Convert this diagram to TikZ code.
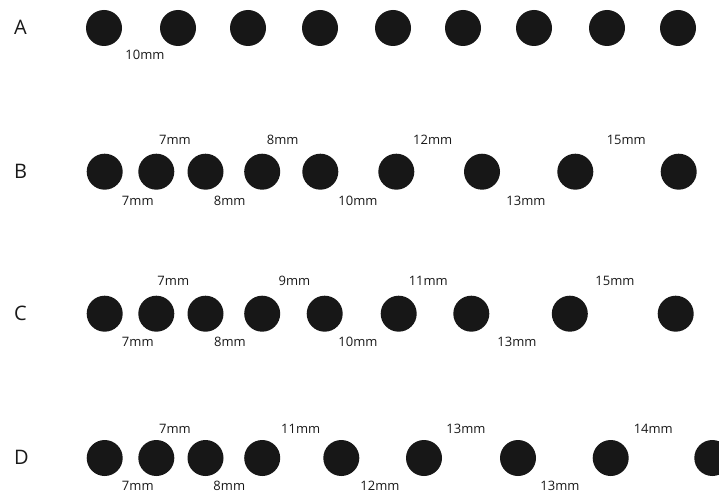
\documentclass[tikz,border=0pt]{standalone}
\usepackage{fontspec}
\setmainfont{Open Sans}
\begin{document}
\begin{tikzpicture}[x=1pt,y=-1pt,
  dot/.style={circle,fill=black!91,minimum size=36pt,inner sep=0pt},
  lbl/.style={font=\fontsize{13}{15}\selectfont,text=black!90,inner sep=0pt},
  rowname/.style={font=\fontsize{20}{22}\selectfont,text=black!90,inner sep=0pt,anchor=west}]
\clip (0,0) rectangle (719,492);
\fill[white] (0,0) rectangle (719,492);
% Row A
\node[rowname] (la) at (14,27) {A};
\foreach \x [count=\i] in {104,178,248,320,393,463,534,607,678}
  \node[dot] (a\i) at (\x,28) {};
\node[lbl] (ta1) at (145,55) {10mm};
% Row B
\node[rowname] (lb) at (14,171) {B};
\foreach \x [count=\i] in {104.7,156.3,205.5,262.2,320.3,396.3,482,575.3,678.7}
  \node[dot] (b\i) at (\x,171.7) {};
\node[lbl] (tb1) at (175,140) {7mm};
\node[lbl] (tb2) at (282.7,140) {8mm};
\node[lbl] (tb3) at (432.7,140) {12mm};
\node[lbl] (tb4) at (626.3,140) {15mm};
\node[lbl] (bb1) at (137.8,201) {7mm};
\node[lbl] (bb2) at (229.7,201) {8mm};
\node[lbl] (bb3) at (358,201) {10mm};
\node[lbl] (bb4) at (526,201) {13mm};
% Row C
\node[rowname] (lc) at (14,313) {C};
\foreach \x [count=\i] in {104.7,156.3,205.5,262.2,324.7,398.7,471.3,569.8,675.7}
  \node[dot] (c\i) at (\x,313.7) {};
\node[lbl] (tc1) at (173.3,280.7) {7mm};
\node[lbl] (tc2) at (294.5,280.7) {9mm};
\node[lbl] (tc3) at (428.3,280.7) {11mm};
\node[lbl] (tc4) at (615,280.7) {15mm};
\node[lbl] (bc1) at (137.8,341.7) {7mm};
\node[lbl] (bc2) at (230,341.7) {8mm};
\node[lbl] (bc3) at (358,341.7) {10mm};
\node[lbl] (bc4) at (517,341.7) {13mm};
% Row D
\node[rowname] (ld) at (14,457) {D};
\foreach \x [count=\i] in {104.7,156.3,205.5,262.2,341.3,424,518,610.7,712.3}
  \node[dot] (d\i) at (\x,458) {};
\node[lbl] (td1) at (175,429.3) {7mm};
\node[lbl] (td2) at (300.7,429.3) {11mm};
\node[lbl] (td3) at (466,429.3) {13mm};
\node[lbl] (td4) at (653.3,429.3) {14mm};
\node[lbl] (bd1) at (137.8,485.5) {7mm};
\node[lbl] (bd2) at (229.3,485.5) {8mm};
\node[lbl] (bd3) at (380,485.5) {12mm};
\node[lbl] (bd4) at (560,485.5) {13mm};
\end{tikzpicture}
\end{document}
